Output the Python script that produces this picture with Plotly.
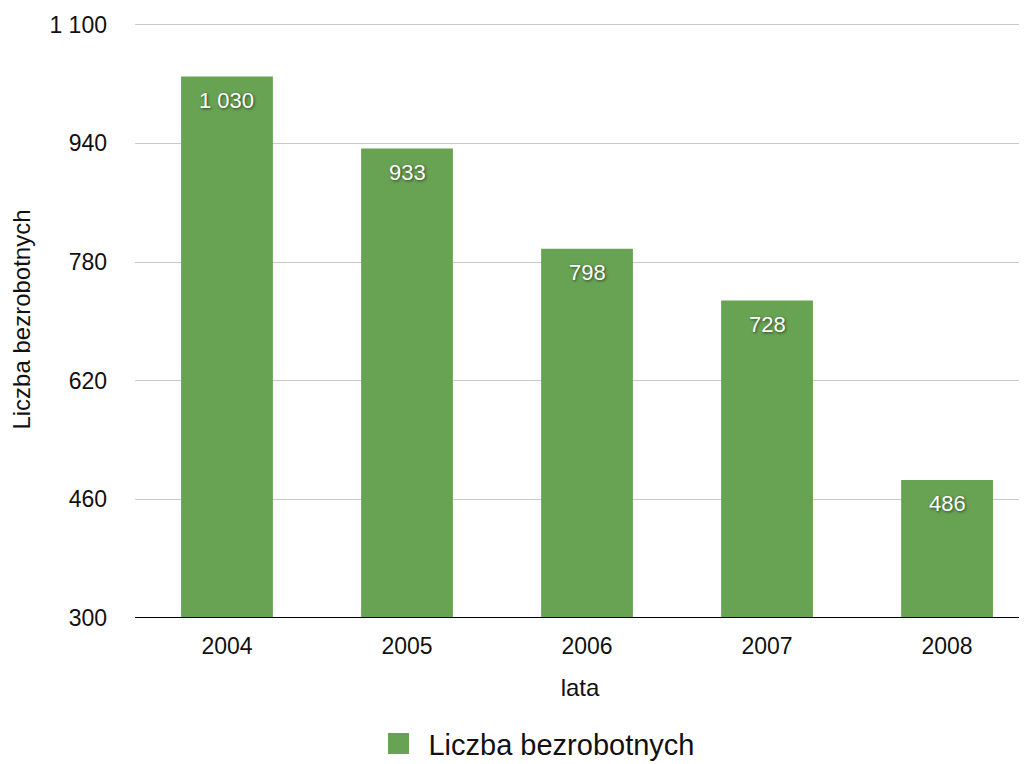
import plotly.graph_objects as go

years = ["2004", "2005", "2006", "2007", "2008"]
values = [1030, 933, 798, 728, 486]
labels = ["1 030", "933", "798", "728", "486"]
y_ticks = [300, 460, 620, 780, 940, 1100]
y_tick_labels = ["300", "460", "620", "780", "940", "1 100"]
series_name = "Liczba bezrobotnych"
bar_color = "#68a354"

FONT = "Liberation Sans, Arial, Helvetica"

fig = go.Figure()
fig.add_trace(go.Bar(
    x=years, y=values, name=series_name, showlegend=False,
    marker=dict(color=bar_color, line=dict(width=0)),
    width=0.51,
))
# legend entry with a larger square swatch
fig.add_trace(go.Scatter(
    x=[None], y=[None], mode="markers", name=series_name,
    marker=dict(symbol="square", size=22, color=bar_color,
                line=dict(color=bar_color, width=5)),
))

for i, (v, lab) in enumerate(zip(values, labels)):
    fig.add_annotation(
        x=i, y=v, text=lab, showarrow=False, yanchor="top", yshift=-9,
        font=dict(color="white", size=22, family=FONT,
                  shadow="1px 1px 3px rgba(0,0,0,0.6)"),
    )

fig.update_layout(
    width=1027, height=764,
    margin=dict(l=127, r=10, t=13, b=154),
    paper_bgcolor="white", plot_bgcolor="white",
    font=dict(family=FONT, color="#111", size=23),
    showlegend=True,
    legend=dict(orientation="h", xref="container", x=0.351, xanchor="left",
                yref="container", y=0.037, yanchor="middle",
                font=dict(size=29), itemsizing="trace", itemwidth=50),
    xaxis=dict(
        type="category", range=[-0.511, 4.433], automargin=False,
        showgrid=False, ticks="", showline=False,
        ticklabelstandoff=12,
        tickfont=dict(size=23),
        title=dict(text="lata", font=dict(size=24), standoff=21),
    ),
    yaxis=dict(
        range=[300, 1105], tickvals=y_ticks, ticktext=y_tick_labels,
        automargin=False,
        showgrid=True, gridcolor="#c8c8c8", gridwidth=1,
        zeroline=False, showline=False, ticks="",
        ticklabelstandoff=27,
        tickfont=dict(size=23),
        title=dict(text=series_name, font=dict(size=24), standoff=13),
    ),
    shapes=[dict(type="line", xref="paper", yref="y", x0=0, x1=1, y0=300, y1=300,
                 line=dict(color="black", width=2))],
)

fig.write_html("out.html")
